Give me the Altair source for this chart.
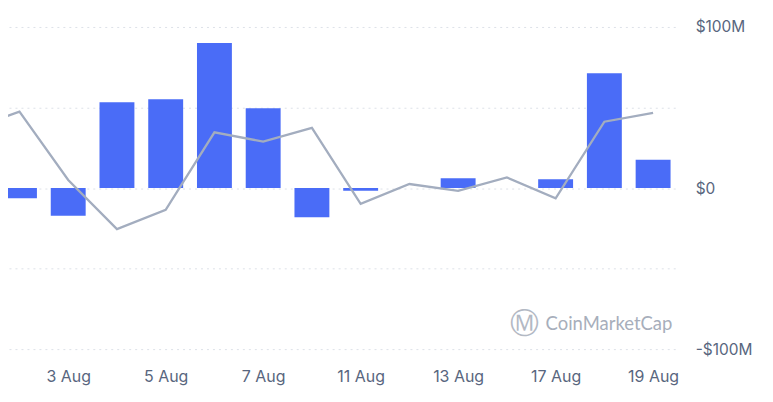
import altair as alt
import pandas as pd

# --- data ---
dates = ["1 Aug", "2 Aug", "3 Aug", "4 Aug", "5 Aug", "6 Aug", "7 Aug", "8 Aug",
         "11 Aug", "12 Aug", "13 Aug", "14 Aug", "17 Aug", "18 Aug", "19 Aug"]
flows = [None, -6.4, -17.2, 53.2, 55.1, 90.1, 49.5, -18.2,
         -1.7, 0.0, 6.0, 0.0, 5.4, 71.2, 17.6]          # net flow, $M
price = [36.8, 47.4, 5.0, -25.5, -13.5, 34.6, 28.8, 37.3,
         -9.8, 2.5, -1.7, 6.6, -6.4, 41.2, 46.6]        # line series (same scale)
tick_labels = ["3 Aug", "5 Aug", "7 Aug", "11 Aug", "13 Aug", "17 Aug", "19 Aug"]

df = pd.DataFrame({"idx": list(range(len(dates))), "date": dates,
                   "flow": flows, "price": price})
bars_df = df.dropna(subset=["flow"])
tick_vals = [dates.index(t) for t in tick_labels]
label_expr = "[" + ",".join("'%s'" % d for d in dates) + "][datum.value]"

GRAY = "#58667E"
x_scale = alt.Scale(domain=[0.7647, 14.454], nice=False, zero=False, padding=0)
y_scale = alt.Scale(domain=[-100, 100], nice=False, padding=0)

x_enc = alt.X("idx:Q", scale=x_scale,
              axis=alt.Axis(values=tick_vals, labelExpr=label_expr, title=None,
                            grid=False, ticks=False, domain=False,
                            labelPadding=19, labelFontSize=16, labelColor=GRAY,
                            labelFont="Inter", labelFlush=False))

bars = alt.Chart(bars_df).mark_bar(size=35, color="#4A6CF7", clip=True).encode(
    x=x_enc,
    y=alt.Y("flow:Q", scale=y_scale,
            axis=alt.Axis(orient="right", values=[-100, -50, 0, 50, 100],
                          labelExpr="datum.value == 100 ? '$100M' : datum.value == 0 ? '$0' : datum.value == -100 ? '-$100M' : ''",
                          title=None, ticks=False, domain=False,
                          labelPadding=20, labelFontSize=15.5, labelColor=GRAY,
                          labelFont="Inter", labelAlign="left",
                          gridColor="#DDE1E8", gridDash=[2, 4], gridWidth=1)),
)

line = alt.Chart(df).mark_line(color="#A3ADBF", strokeWidth=2.3, clip=True).encode(
    x=alt.X("idx:Q", scale=x_scale),
    y=alt.Y("price:Q", scale=y_scale),
)

wm_df = pd.DataFrame({"t": ["CoinMarketCap"], "logo": ["\u24C2"]})
wm_text = alt.Chart(wm_df).mark_text(
    align="left", baseline="middle", fontSize=18.5, font="Lato",
    color="#A7AEBB").encode(text="t:N", x=alt.value(539), y=alt.value(298))
wm_logo = alt.Chart(wm_df).mark_text(
    align="center", baseline="middle", fontSize=29, font="DejaVu Sans",
    color="#B3B9C4").encode(text="logo:N", x=alt.value(518), y=alt.value(298))

chart = alt.layer(wm_text, wm_logo, bars, line).properties(
    width=669, height=323,
    autosize=alt.AutoSizeParams(type="none"),
    padding={"left": 0, "top": 18.5, "right": 90, "bottom": 45},
    background="white",
).configure_view(strokeWidth=0, stroke=None)

chart.save("out.html", embed_options={"renderer": "svg", "actions": False})
